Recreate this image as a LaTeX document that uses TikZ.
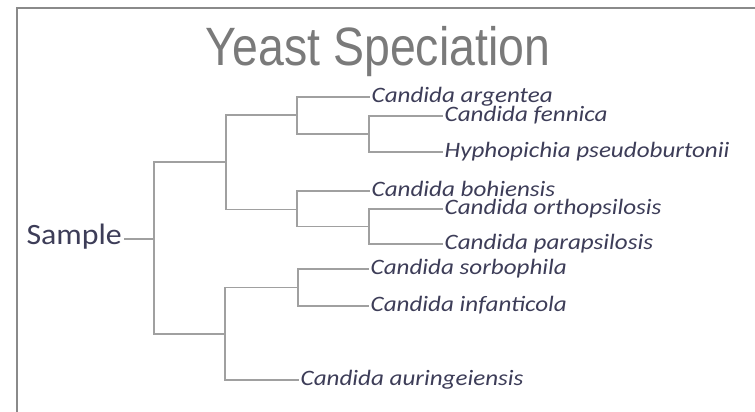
\documentclass[tikz,border=0pt]{standalone}
\usepackage{fontspec}
\usepackage{xcolor}
\newfontfamily\titlefont[FakeStretch=0.86]{Liberation Sans}
\newfontfamily\treefont[FakeStretch=1.14]{Carlito}
\newfontfamily\rootfont[FakeStretch=1.08]{Carlito}
\usetikzlibrary{positioning}
\definecolor{framegray}{HTML}{8A8A8A}
\definecolor{titlegray}{HTML}{7A7A7A}
\definecolor{branchgray}{HTML}{A0A0A0}
\definecolor{labelnavy}{HTML}{3D3D58}
\tikzset{
  every picture/.style={line join=miter, line cap=rect},
  frame/.style={draw=framegray, line width=2.6bp},
  branch/.style={draw=branchgray, line width=1.4bp},
  species/.style={anchor=west, inner xsep=2.5bp, inner ysep=0pt, text=labelnavy,
    font=\treefont\itshape\fontsize{22bp}{26bp}\selectfont,
    text height=13bp, text depth=3bp},
  rootlabel/.style={anchor=east, inner xsep=3bp, inner ysep=0pt, text=labelnavy,
    font=\rootfont\fontsize{29.5bp}{34bp}\selectfont,
    text height=18bp, text depth=8bp},
  heading/.style={anchor=base, inner sep=0pt, text=titlegray,
    font=\titlefont\fontsize{54bp}{60bp}\selectfont},
}

\begin{document}
\begin{tikzpicture}[x=1bp,y=-1bp]
\useasboundingbox (0,0) rectangle (755,411);
\fill[white] (0,0) rectangle (755,411);
\draw[frame] (17,420) -- (17,8) -- (760,8);
\node[heading] (title) at (378,65) {Yeast Speciation};
% leaves
\node[species] (argentea) at (369,97) {Candida argentea};
\node[species] (fennica) at (442,116) {Candida fennica};
\node[species] (hypho) at (442,152) {Hyphopichia pseudoburtonii};
\node[species] (bohiensis) at (369,191) {Candida bohiensis};
\node[species] (ortho) at (442,209) {Candida orthopsilosis};
\node[species] (para) at (442,244) {Candida parapsilosis};
\node[species] (sorbo) at (368,269) {Candida sorbophila};
\node[species] (infant) at (368,306) {Candida infanticola};
\node[species] (auring) at (298,380) {Candida auringeiensis};
\node[rootlabel] (sample) at (125,239) {Sample};
% junctions
\coordinate (nA1b) at (369,134);
\coordinate (nA1) at (297,115);
\coordinate (nA2b) at (369,226.5);
\coordinate (nA2) at (297,209.5);
\coordinate (nA) at (226,162);
\coordinate (nB1) at (298,287.5);
\coordinate (nB) at (225,334);
\coordinate (root) at (154,239);
% branches
\draw[branch] (fennica.west) -| (nA1b) |- (hypho.west);
\draw[branch] (argentea.west) -| (nA1) |- (nA1b);
\draw[branch] (ortho.west) -| (nA2b) |- (para.west);
\draw[branch] (bohiensis.west) -| (nA2) |- (nA2b);
\draw[branch] (nA1) -| (nA) |- (nA2);
\draw[branch] (sorbo.west) -| (nB1) |- (infant.west);
\draw[branch] (nB1) -| (nB) |- (auring.west);
\draw[branch] (nA) -| (root) |- (nB);
\draw[branch] (sample.east) -- (root);
\end{tikzpicture}
\end{document}
